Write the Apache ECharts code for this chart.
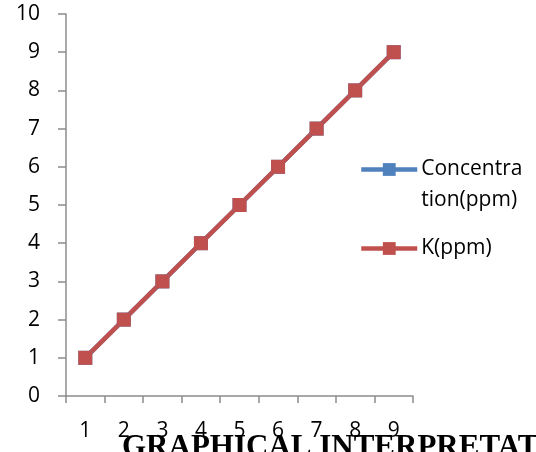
<!DOCTYPE html>
<html>
<head>
<meta charset="utf-8">
<script src="https://cdn.jsdelivr.net/npm/echarts@6/dist/echarts.min.js"></script>
<style>html,body{margin:0;padding:0;background:#fff;}#c{width:536px;height:452px;}</style>
</head>
<body>
<div id="c"></div>
<script>
var categories = ['1','2','3','4','5','6','7','8','9'];
var concentration = [1,2,3,4,5,6,7,8,9];
var kppm = [1,2,3,4,5,6,7,8,9];
var seriesNames = ['Concentration(ppm)','K(ppm)'];
var titleText = 'GRAPHICAL INTERPRETATION';

var chart = echarts.init(document.getElementById('c'), null, {renderer:'canvas'});
var font = 'Open Sans';
var legendCommon = {
  orient:'vertical', left:354,
  itemWidth:56, itemHeight:16,
  lineStyle:{width:4.5},
  textStyle:{color:'#000',fontFamily:font,fontSize:21,lineHeight:31,padding:[0,0,0,-1]}
};
chart.setOption({
  animation:false,
  backgroundColor:'#fff',
  grid:{left:66,right:123,top:14,bottom:56,containLabel:false},
  xAxis:{
    type:'category', data:categories, boundaryGap:true,
    axisLine:{lineStyle:{color:'#8c8c8c',width:1.5}},
    axisTick:{show:true,length:7,lineStyle:{color:'#8c8c8c',width:1.5}},
    axisLabel:{color:'#000',fontFamily:font,fontSize:21,margin:25},
    splitLine:{show:false}
  },
  yAxis:{
    type:'value', min:0, max:10, interval:1,
    axisLine:{show:true,lineStyle:{color:'#8c8c8c',width:1.5}},
    axisTick:{show:true,length:8,lineStyle:{color:'#8c8c8c',width:1.5}},
    axisLabel:{color:'#000',fontFamily:font,fontSize:21,margin:26},
    splitLine:{show:false}
  },
  legend:[
    Object.assign({}, legendCommon, {
      data:[seriesNames[0]], top:118,
      formatter:function(){return '\nConcentra\ntion(ppm)';}
    }),
    Object.assign({}, legendCommon, {
      data:[seriesNames[1]], top:228
    })
  ],
  graphic:[{
    type:'text', left:122, top:432,
    style:{text:titleText, fill:'#000', font:'bold 31px "Liberation Serif"'}
  }],
  series:[{
    name:seriesNames[0], type:'line', data:concentration,
    symbol:'rect', symbolSize:14,
    lineStyle:{color:'#4F81BD',width:4.5},
    itemStyle:{color:'#4F81BD'}
  },{
    name:seriesNames[1], type:'line', data:kppm,
    symbol:'rect', symbolSize:14,
    lineStyle:{color:'#C0504D',width:4.5},
    itemStyle:{color:'#C0504D'}
  }]
});
</script>
</body>
</html>
